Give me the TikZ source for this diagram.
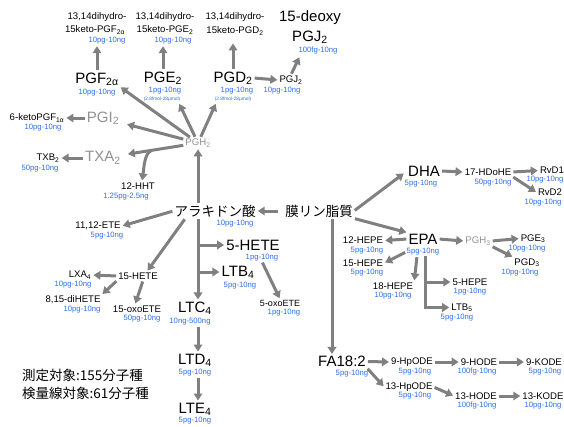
\documentclass[tikz,border=0pt]{standalone}
\usepackage{fontspec}
\setmainfont{Liberation Sans}
\newfontfamily\jpfont{Noto Sans CJK JP}
\usetikzlibrary{arrows.meta,calc}
\definecolor{rngblue}{RGB}{45,110,235}
\definecolor{arrgray}{RGB}{128,128,128}
\definecolor{lblgray}{RGB}{145,145,145}
\newcommand\sbs[1]{\textsubscript{#1}}
\begin{document}
\begin{tikzpicture}[x=1pt,y=-1pt,
 lab/.style={inner sep=1pt,text=black},
 big/.style={lab,font=\fontsize{15}{16}\selectfont},
 mid/.style={lab,font=\fontsize{9.6}{11}\selectfont},
 rng/.style={inner sep=0.5pt,text=rngblue,font=\fontsize{7.7}{8}\selectfont},
 tiny/.style={inner sep=0.5pt,text=rngblue,font=\fontsize{4.8}{5}\selectfont},
 gr/.style={text=lblgray},
 jpl/.style={inner sep=1pt,font=\jpfont\fontsize{13.5}{15}\selectfont},
 arr/.style={draw=arrgray,line width=3pt,shorten <=1pt,shorten >=1pt,-{Triangle[length=7pt,width=8.5pt]}},
 ln/.style={draw=arrgray,line width=3pt},
]
\useasboundingbox (0,0) rectangle (564,426);
% top row
\node[mid] (d1a) at (97,17) {13,14dihydro-};
\node[mid] (d1b) at (95,30) {15keto-PGF\sbs{2α}};
\node[rng] (d1r) at (107,41) {10pg-10ng};
\node[mid] (d2a) at (165,17) {13,14dihydro-};
\node[mid] (d2b) at (165,30) {15keto-PGE\sbs{2}};
\node[rng] (d2r) at (173,41) {10pg-10ng};
\node[mid] (d3a) at (235,17) {13,14dihydro-};
\node[mid] (d3b) at (235,31) {15keto-PGD\sbs{2}};
\node[big] (deoxy) at (310,18) {15-deoxy};
\node[big] (pgjt) at (310,37) {PGJ\sbs{2}};
\node[rng] (pgjtr) at (318,51) {100fg-10ng};
% prostaglandins
\node[big] (pgf) at (97,79) {PGF\sbs{2α}};
\node[rng] (pgfr) at (97,93) {10pg-10ng};
\node[big] (pge) at (163,78) {PGE\sbs{2}};
\node[rng] (pger) at (165,91) {1pg-10ng};
\node[tiny] (pget) at (162,99) {(2.8fmol-28μmol)};
\node[big] (pgd) at (233,78) {PGD\sbs{2}};
\node[rng] (pgdr) at (237,91) {1pg-10ng};
\node[tiny] (pgdt) at (233,99) {(2.8fmol-28μmol)};
\node[mid] (pgj) at (291,80) {PGJ\sbs{2}};
\node[rng] (pgjr) at (282,90.5) {10pg-10ng};
\node[big,gr] (pgi) at (103,118) {PGI\sbs{2}};
\node[mid] (keto) at (37,118) {6-ketoPGF\sbs{1α}};
\node[rng] (ketor) at (43,128) {10pg-10ng};
\node[mid,gr] (pgh) at (198,143) {PGH\sbs{2}};
\node[big,gr] (txa) at (103,158) {TXA\sbs{2}};
\node[mid] (txb) at (48,158) {TXB\sbs{2}};
\node[rng] (txbr) at (40,168.5) {50pg-10ng};
\node[mid] (hht) at (138,186) {12-HHT};
\node[rng] (hhtr) at (126,196.5) {1.25pg-2.5ng};
% arachidonic acid
\node[jpl] (aa) at (215,211) {アラキドン酸};
\node[rng] (aar) at (235,223.5) {10pg-10ng};
\node[jpl] (mem) at (319,211) {膜リン脂質};
\node[mid] (ete) at (98,226) {11,12-ETE};
\node[rng] (eter) at (107,236) {5pg-10ng};
\node[mid] (h15) at (138,276) {15-HETE};
\node[mid] (lxa) at (80,275) {LXA\sbs{4}};
\node[rng] (lxar) at (73,285) {10pg-10ng};
\node[mid] (dih) at (73,300) {8,15-diHETE};
\node[rng] (dihr) at (82,310) {10pg-10ng};
\node[mid] (o15) at (137,309) {15-oxoETE};
\node[rng] (o15r) at (142,319) {50pg-10ng};
\node[big] (h5) at (253,245) {5-HETE};
\node[rng] (h5r) at (262,257.5) {1pg-10ng};
\node[big] (ltb4) at (238,272) {LTB\sbs{4}};
\node[rng] (ltb4r) at (240,286) {5pg-10ng};
\node[lab,font=\fontsize{9}{10}\selectfont] (o5) at (280,303.5) {5-oxoETE};
\node[rng] (o5r) at (284,312.5) {1pg-10ng};
\node[big] (ltc) at (195,308) {LTC\sbs{4}};
\node[rng] (ltcr) at (190,321.5) {10ng-500ng};
\node[big] (ltd) at (195,360) {LTD\sbs{4}};
\node[rng] (ltdr) at (195,372.5) {5pg-10ng};
\node[big] (lte) at (195,409) {LTE\sbs{4}};
\node[rng] (lter) at (195,421) {5pg-10ng};
% DHA / EPA / FA18:2
\node[big] (dha) at (424,171) {DHA};
\node[rng] (dhar) at (421,183.5) {5pg-10ng};
\node[mid] (hdohe) at (488,172) {17-HDoHE};
\node[rng] (hdoher) at (493,182.5) {50pg-10ng};
\node[mid] (rvd1) at (552,170.5) {RvD1};
\node[rng] (rvd1r) at (545,180) {10pg-10ng};
\node[mid] (rvd2) at (550,192.5) {RvD2};
\node[rng] (rvd2r) at (543,202.5) {10pg-10ng};
\node[big] (epa) at (423,239) {EPA};
\node[rng] (epar) at (423,252) {5pg-10ng};
\node[mid,gr] (pgh3) at (478,241) {PGH\sbs{3}};
\node[mid] (pge3) at (533,238.5) {PGE\sbs{3}};
\node[rng] (pge3r) at (527,248.5) {10pg-10ng};
\node[mid] (pgd3) at (527,262.5) {PGD\sbs{3}};
\node[rng] (pgd3r) at (520,273) {10pg-10ng};
\node[mid] (hp12) at (363,240.5) {12-HEPE};
\node[rng] (hp12r) at (367,250.5) {5pg-10ng};
\node[mid] (hp15) at (363,263) {15-HEPE};
\node[rng] (hp15r) at (367,273) {5pg-10ng};
\node[mid] (hp18) at (393,286) {18-HEPE};
\node[rng] (hp18r) at (393,296) {10pg-10ng};
\node[mid] (hp5) at (470,282) {5-HEPE};
\node[rng] (hp5r) at (470,292) {1pg-10ng};
\node[mid] (ltb5) at (462,307.5) {LTB\sbs{5}};
\node[rng] (ltb5r) at (457,318) {5pg-10ng};
\node[big] (fa) at (342,361.5) {FA18:2};
\node[rng] (far) at (352,374) {5pg-10ng};
\node[mid] (hpo9) at (412,362) {9-HpODE};
\node[rng] (hpo9r) at (415,372) {5pg-10ng};
\node[mid] (ho9) at (479,362) {9-HODE};
\node[rng] (ho9r) at (477,372) {100fg-10ng};
\node[mid] (ko9) at (544,362) {9-KODE};
\node[rng] (ko9r) at (545,372) {5pg-10ng};
\node[mid] (hpo13) at (409,387) {13-HpODE};
\node[rng] (hpo13r) at (415,396) {5pg-10ng};
\node[mid] (ho13) at (476,396) {13-HODE};
\node[rng] (ho13r) at (477,406) {100fg-10ng};
\node[mid] (ko13) at (543,396) {13-KODE};
\node[rng] (ko13r) at (543,406) {10pg-10ng};
% legend
\node[jpl,anchor=west] (leg1) at (21,375) {測定対象:155分子種};
\node[jpl,anchor=west] (leg2) at (21,393) {検量線対象:61分子種};
% connectors: prostaglandins
\draw[arr] (pgf.north) -- (pgf.north |- d1r.south);
\draw[arr] (pge.north) -- (pge.north |- d2r.south);
\draw[arr] (pgd.north) -- ($(pgd.north |- d3b.south)+(0,6)$);
\draw[arr] (pgd.east) -- (pgj.west);
\draw[arr] (pgj.north) -- ($(pgjtr.south west)+(2,1)$);
\draw[arr] (pgh) -- (pgf.south east);
\draw[arr] (pgh) -- ($(pget.south east)+(-2,1)$);
\draw[arr] (pgh) -- ($(pgdt.south west)+(2,1)$);
\draw[arr,shorten >=7pt] (pgh) -- (pgi);
\draw[arr,shorten >=6pt] (pgh) -- (txa);
\draw[arr] ($(pgh)!0.48!(txa)$) .. controls +(-8,3) and +(2,-14) .. ($(hht.north)+(4,0)$);
\draw[arr] (txa.west) -- (txb.east);
\draw[arr] (pgi.west) -- (keto.east);
% arachidonic acid
\draw[arr] (pgh |- aa.north) -- (pgh.south);
\draw[arr,shorten <=6pt] (mem.west) -- (aa.east);
\draw[arr] (aa.west) -- (ete.east);
\draw[arr] ($(aa.south west)+(12,0)$) -- ($(h15.north)+(9,0)$);
\draw[arr] (h15.west) -- (lxa.east);
\draw[arr] (h15.south west) -- (dih.north east);
\draw[arr] ($(h15.south)+(5,0)$) -- ($(o15.north)+(-2,0)$);
\draw[arr] (pgh |- aa.south) -- (pgh |- ltc.north);
\draw[arr] (pgh |- h5) -- (h5.west);
\draw[arr] (pgh |- ltb4) -- (ltb4.west);
\draw[arr] (h5r.south) -- (o5.north);
\draw[arr] (pgh |- ltcr.south) -- (pgh |- ltd.north);
\draw[arr] (pgh |- ltdr.south) -- (pgh |- lte.north);
% membrane to the right
\draw[arr,shorten >=4pt] (mem.east) -- (dha.west);
\draw[arr] (mem.south east) -- (epa.north west);
\coordinate (mv) at ($(mem.south)+(13,0)$);
\draw[arr] (mv) -- (mv |- fa.north);
\draw[arr] (dha.east) -- (hdohe.west);
\draw[arr] (hdohe.east) -- (rvd1.west);
\draw[arr] (hdohe.south east) -- (rvd2.west);
\draw[arr] (epa.west) -- (hp12.east);
\draw[arr] (epar.west) -- (hp15.east);
\draw[arr] ($(epar.south)+(-6,0)$) -- (hp18.north east);
\coordinate (ev) at ($(epar.south)+(2,0)$);
\draw[ln] (ev) -- ($(ev |- ltb5)+(0,1.5)$);
\draw[arr] (ev |- hp5) -- (hp5.west);
\draw[arr] (ev |- ltb5) -- (ltb5.west);
\draw[arr] (epa.east) -- (pgh3.west);
\draw[arr] (pgh3.east) -- (pge3.west);
\draw[arr] (pgh3.south east) -- (pgd3.north west);
\draw[arr] (fa.east) -- (hpo9.west);
\draw[arr] (hpo9.east) -- (ho9.west);
\draw[arr] (ho9.east) -- (ko9.west);
\draw[arr] (fa.south east) -- (hpo13.west);
\draw[arr] (hpo13.east) -- (ho13.west);
\draw[arr] (ho13.east) -- (ko13.west);
\end{tikzpicture}
\end{document}
